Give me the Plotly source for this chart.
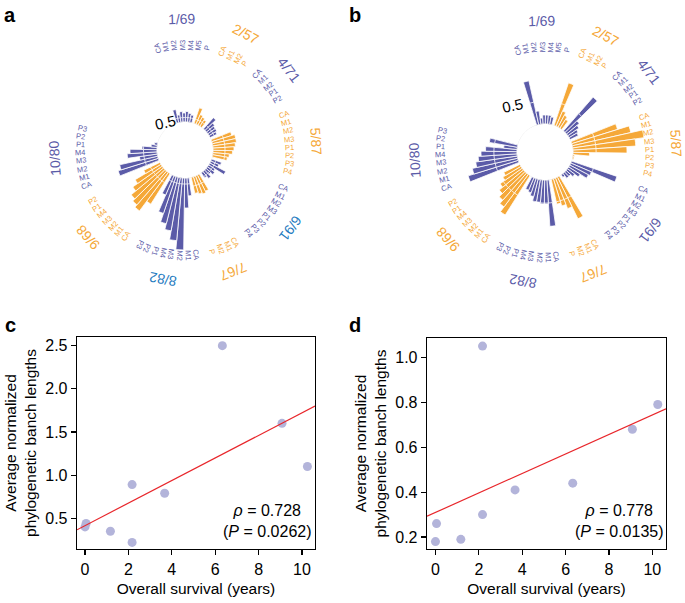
import numpy as np
import plotly.graph_objects as go

W, H = 685, 603

# ---------------- data ----------------
patients = ["1/69", "2/57", "4/71", "5/87", "6/91", "7/67", "8/82", "9/68", "10/80"]
samples = [
    ["CA", "M1", "M2", "M3", "M4", "M5", "P"],
    ["CA", "M1", "M2", "P"],
    ["CA", "M1", "M2", "P1", "P2"],
    ["CA", "M1", "M2", "M3", "P1", "P2", "P3", "P4"],
    ["CA", "M1", "M2", "M3", "P1", "P2", "P3", "P4"],
    ["CA", "M1", "M2", "P"],
    ["CA", "M1", "M2", "M3", "M4", "P1", "P2", "P3"],
    ["CA", "M1", "M2", "M3", "M4", "P1", "P2"],
    ["CA", "M1", "M2", "M3", "M4", "P1", "P2", "P3"],
]
# panel a: branch lengths per sample (total) and shared trunk per patient
len_a = [
    [0.45, 0.25, 0.35, 0.30, 0.35, 0.30, 0.25],
    [0.55, 0.35, 0.30, 0.25],
    [0.50, 0.35, 0.30, 0.30, 0.25],
    [0.70, 0.80, 0.80, 0.75, 0.70, 0.65, 0.55, 0.50],
    [0.35, 0.30, 0.60, 0.25, 0.30, 0.20, 0.30, 0.20],
    [0.60, 0.65, 0.60, 0.55],
    [0.60, 1.00, 2.40, 2.10, 1.80, 1.60, 1.30, 0.70],
    [1.20, 1.60, 1.50, 1.40, 1.20, 1.00, 0.60],
    [1.40, 1.30, 0.60, 1.00, 0.90, 0.50, 0.20, 0.10],
]
trunk_a = [0.15, 0.15, 0.15, 0.40, 0.15, 0.30, 0.20, 0.35, 0.45]
# panel b
len_b = [
    [1.50, 0.45, 0.20, 0.30, 0.30, 0.30, 0.25],
    [1.50, 0.55, 0.45, 0.35],
    [1.50, 0.55, 0.45, 0.35, 0.30],
    [1.60, 2.00, 2.40, 2.10, 1.80, 0.55, 0.05, 0.05],
    [1.60, 0.75, 0.70, 0.45, 0.30, 0.20, 0.20, 0.10],
    [1.55, 1.10, 0.95, 0.85],
    [1.55, 0.80, 0.80, 0.75, 0.75, 0.60, 0.50, 0.45],
    [1.55, 1.35, 1.20, 1.05, 0.90, 0.70, 0.60],
    [1.75, 1.55, 1.40, 1.30, 1.20, 1.05, 0.45, 0.95],
]
trunk_b = [0.77, 0.77, 0.77, 0.77, 0.77, 0.77, 0.77, 0.77, 0.77]

survival = [0.0, 0.05, 1.17, 2.17, 2.17, 3.67, 6.33, 9.08, 10.25]
branch_c = [0.40, 0.44, 0.35, 0.89, 0.22, 0.79, 2.50, 1.60, 1.10]
branch_d = [0.18, 0.26, 0.19, 1.05, 0.30, 0.41, 0.44, 0.68, 0.79]
stats_c = ("0.728", "0.0262")
stats_d = ("0.778", "0.0135")

PURPLE = "#5b5ba8"
ORANGE = "#f5a838"
BLUE = "#1f7bc0"
FONT = "Liberation Sans, Arial, Helvetica, sans-serif"

# ---------------- polar geometry ----------------
STEP = 4.5
START = -15.0
thetas, pat_idx = [], []
slot = 0
for pi, s in enumerate(samples):
    for _ in s:
        thetas.append(START + slot * STEP)
        pat_idx.append(pi)
        slot += 1
    slot += 1  # gap between patients
pat_center = []
for pi in range(len(samples)):
    th = [t for t, p in zip(thetas, pat_idx) if p == pi]
    pat_center.append((th[0] + th[-1]) / 2)

pcol = [PURPLE if i % 2 == 0 else ORANGE for i in range(len(patients))]
bar_colors = [pcol[p] for p in pat_idx]

R_PX = 100.0
HOLE_PX = 28.0
RMAX = 2.4
centers = {"polar": (185.0, 150.0), "polar2": (545.0, 152.0)}

fig = go.Figure()
annotations = []


def to_paper(cx, cy, r, th):
    t = np.deg2rad(th)
    px = cx + r * np.sin(t)
    py = cy - r * np.cos(t)
    return px / W, 1 - py / H


def add_polar(sub, lengths, trunks, label_colors, zero_label):
    tot = [v for row in lengths for v in row]
    trk = [min(trunks[p], v) for v, p in zip(tot, pat_idx)]
    fig.add_trace(go.Barpolar(r=tot, theta=thetas, width=STEP, subplot=sub,
                              marker=dict(color=bar_colors, line=dict(color="white", width=0.8)),
                              showlegend=False, hoverinfo="skip"))
    fig.add_trace(go.Barpolar(r=trk, theta=thetas, width=STEP, subplot=sub,
                              marker=dict(color=bar_colors, line=dict(color="white", width=0.8)),
                              showlegend=False, hoverinfo="skip"))
    fig.add_trace(go.Scatterpolar(r=[0] * 361, theta=list(range(361)), mode="lines", subplot=sub,
                                  line=dict(color="#e6e6e6", width=0.6), showlegend=False, hoverinfo="skip"))
    cx, cy = centers[sub]
    k = 0
    for pi, s in enumerate(samples):
        for name in s:
            th = thetas[k]
            x, y = to_paper(cx, cy, 105, th)
            tn = th % 360
            ang = tn - 90 if (tn < 210 or tn > 330) else tn + 90
            ang = ((ang + 180) % 360) - 180
            annotations.append(dict(x=x, y=y, xref="paper", yref="paper", text=name, showarrow=False,
                                    textangle=ang, font=dict(size=7.5, color=pcol[pi], family=FONT),
                                    xanchor="center", yanchor="middle"))
            k += 1
        th = pat_center[pi]
        x, y = to_paper(cx, cy, 131, th)
        ang = ((th + 180) % 360) - 180
        annotations.append(dict(x=x, y=y, xref="paper", yref="paper", text=patients[pi], showarrow=False,
                                textangle=ang, font=dict(size=14, color=label_colors[pi], family=FONT),
                                xanchor="center", yanchor="middle"))
    r0, t0 = zero_label
    x, y = to_paper(cx, cy, r0, t0)
    annotations.append(dict(x=x, y=y, xref="paper", yref="paper", text="0.5", showarrow=False,
                            textangle=-12, font=dict(size=15, color="black", family=FONT),
                            xanchor="center", yanchor="middle"))


lab_a = list(pcol)
lab_a[4] = BLUE
lab_a[6] = BLUE
add_polar("polar", len_a, trunk_a, lab_a, (34, -36))
add_polar("polar2", len_b, trunk_b, list(pcol), (57, -35))


def polar_layout(sub):
    cx, cy = centers[sub]
    return dict(
        domain=dict(x=[(cx - R_PX) / W, (cx + R_PX) / W], y=[1 - (cy + R_PX) / H, 1 - (cy - R_PX) / H]),
        hole=HOLE_PX / R_PX, bgcolor="white", barmode="overlay",
        radialaxis=dict(range=[0, RMAX], visible=False),
        angularaxis=dict(rotation=90, direction="clockwise", visible=False),
    )


# ---------------- scatter panels ----------------
def add_scatter(xa, ya, yvals, stats, xr, yr, ann_px, ann_py):
    fig.add_trace(go.Scatter(x=survival, y=yvals, mode="markers", xaxis=xa, yaxis=ya,
                             marker=dict(size=9, color="#b3b4da"), showlegend=False, hoverinfo="skip"))
    slope, icpt = np.polyfit(survival, yvals, 1)
    lx = np.array(xr)
    fig.add_trace(go.Scatter(x=lx, y=icpt + slope * lx, mode="lines", xaxis=xa, yaxis=ya,
                             line=dict(color="#e8262b", width=1.2), showlegend=False, hoverinfo="skip"))
    annotations.append(dict(x=ann_px / W, y=1 - ann_py / H, xref="paper", yref="paper",
                            text=f"<i>ρ</i> = {stats[0]}<br>(<i>P</i> = {stats[1]})", showarrow=False,
                            xanchor="right", yanchor="middle", align="center",
                            font=dict(size=16, color="black", family=FONT)))


xr_c, yr_c = [-0.37, 10.6], [0.144, 2.6]
xr_d, yr_d = [-0.39, 10.63], [0.147, 1.086]
add_scatter("x", "y", branch_c, stats_c, xr_c, yr_c, 314, 521)
add_scatter("x2", "y2", branch_d, stats_d, xr_d, yr_d, 666, 521)

axis_common = dict(showline=True, mirror=True, linecolor="black", linewidth=1.3, ticks="outside",
                   ticklen=5, tickwidth=1.2, tickcolor="black", showgrid=False, zeroline=False,
                   tickfont=dict(size=16, color="black", family=FONT))
xt = [0, 2, 4, 6, 8, 10]
title_font = dict(size=15.5, color="black", family=FONT)
ytitle = "Average normalized<br>phylogenetic banch lengths"

for txt, px, py in [("a", 10, 15), ("b", 355, 15), ("c", 10, 325), ("d", 355, 325)]:
    annotations.append(dict(x=px / W, y=1 - py / H, xref="paper", yref="paper", text=f"<b>{txt}</b>",
                            showarrow=False, font=dict(size=20, color="black", family=FONT),
                            xanchor="center", yanchor="middle"))

fig.update_layout(
    width=W, height=H, margin=dict(l=0, r=0, t=0, b=0), autosize=False,
    paper_bgcolor="white", plot_bgcolor="white",
    polar=polar_layout("polar"), polar2=polar_layout("polar2"),
    xaxis=dict(domain=[77 / W, 315 / W], anchor="y", range=xr_c, tickvals=xt,
               title=dict(text="Overall survival (years)", font=title_font, standoff=6), **axis_common),
    yaxis=dict(domain=[1 - 549 / H, 1 - 337 / H], anchor="x", range=yr_c,
               tickvals=[0.5, 1.0, 1.5, 2.0, 2.5], tickformat=".1f",
               title=dict(text=ytitle, font=title_font, standoff=4), **axis_common),
    xaxis2=dict(domain=[427 / W, 666 / W], anchor="y2", range=xr_d, tickvals=xt,
                title=dict(text="Overall survival (years)", font=title_font, standoff=6), **axis_common),
    yaxis2=dict(domain=[1 - 549 / H, 1 - 338 / H], anchor="x2", range=yr_d,
                tickvals=[0.2, 0.4, 0.6, 0.8, 1.0], tickformat=".1f",
                title=dict(text=ytitle, font=title_font, standoff=4), **axis_common),
    annotations=annotations,
)

fig.write_html("out.html", config={"displayModeBar": False, "staticPlot": True},
               post_script="document.body.style.margin='0px';document.body.style.padding='0px';")
